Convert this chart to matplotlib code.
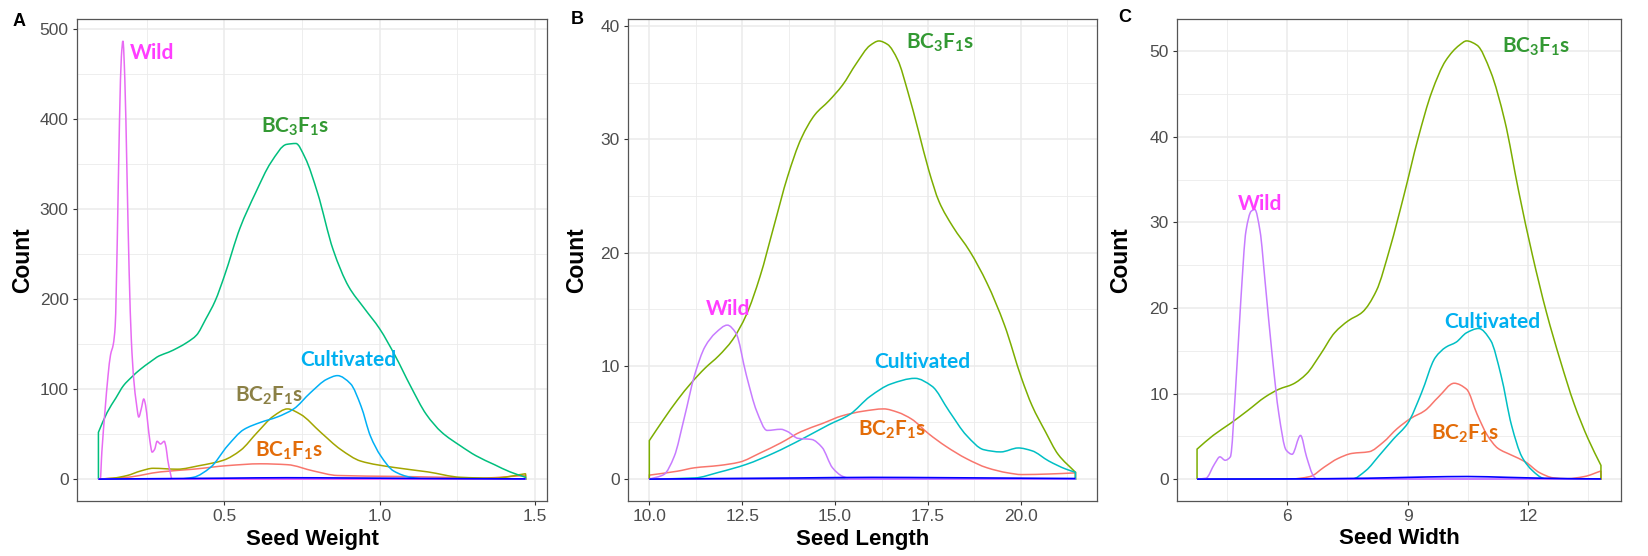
import numpy as np
import matplotlib
matplotlib.use("Agg")
from matplotlib import pyplot as plt
from matplotlib.path import Path
from matplotlib.patches import PathPatch

plt.rcParams["font.family"] = ["Liberation Sans", "DejaVu Sans"]
plt.rcParams["mathtext.fontset"] = "custom"
plt.rcParams["mathtext.rm"] = "Lato"
plt.rcParams["mathtext.bf"] = "Lato:bold"

# ---- panel A : seed weight ----
wt_bc3_x = [0.094, 0.122, 0.15, 0.175, 0.2, 0.229, 0.26, 0.29, 0.32, 0.35, 0.38, 0.41, 0.44, 0.47, 0.5,
            0.55, 0.6, 0.65, 0.7, 0.73, 0.76, 0.8, 0.85, 0.9, 0.95, 1.0, 1.05, 1.1, 1.15, 1.2, 1.26,
            1.31, 1.37, 1.42, 1.47]
wt_bc3_y = [52, 74, 90, 104, 113, 122, 130, 137, 141, 146, 152, 160, 178, 198, 226,
            279, 318, 352, 372, 373, 357, 318, 255, 214, 190, 167, 137, 103, 72, 52, 37,
            26, 16, 8, 2]
wt_cult_x = [0.094, 0.35, 0.40, 0.455, 0.51, 0.562, 0.616, 0.67, 0.723, 0.777, 0.83, 0.864, 0.906,
             0.94, 0.97, 1.003, 1.045, 1.1, 1.15, 1.47]
wt_cult_y = [0, 0, 2, 13, 37, 55, 63, 69, 78, 96, 111, 115, 106, 81, 48, 26, 9, 2, 0, 0]
wt_bc2_x = [0.094, 0.14, 0.187, 0.23, 0.27, 0.348, 0.42, 0.497, 0.552, 0.606, 0.658, 0.703, 0.745,
            0.81, 0.874, 0.939, 1.045, 1.155, 1.26, 1.368, 1.47]
wt_bc2_y = [0, 1, 4, 9, 12, 11, 15, 21, 32, 52, 70, 78, 72, 52, 33, 20, 13, 8, 2, 1, 6]
wt_bc1_x = [0.094, 0.187, 0.294, 0.40, 0.51, 0.616, 0.703, 0.787, 0.864, 1.045, 1.21, 1.314, 1.47]
wt_bc1_y = [0, 2, 8, 11, 15, 17, 16, 9, 4, 3, 2, 1, 4]
wt_wild_x = [0.094, 0.100, 0.105, 0.115, 0.125, 0.133, 0.142, 0.148, 0.155, 0.162, 0.168, 0.173,
             0.179, 0.186, 0.193, 0.200, 0.208, 0.216, 0.224, 0.232, 0.240, 0.246, 0.253, 0.260,
             0.267, 0.275, 0.283, 0.294, 0.306, 0.312, 0.317, 0.325, 0.331, 1.47]
wt_wild_y = [0, 0, 30, 75, 115, 138, 150, 170, 270, 400, 470, 487,
             445, 340, 230, 155, 110, 85, 69, 78, 89, 82, 62, 42,
             30, 33, 42, 39, 42, 35, 22, 8, 0, 0]
wt_blue_x = [0.094, 0.3, 0.5, 0.7, 0.9, 1.1, 1.3, 1.47]
wt_blue_y = [0, 0.5, 1.0, 1.5, 1.2, 0.8, 0.4, 0.2]

# ---- panel B : seed length ----
ln_bc3_x = [10.0, 10.39, 10.76, 11.13, 11.5, 11.87, 12.24, 12.61, 12.98, 13.35, 13.72, 14.09, 14.46,
            14.83, 15.2, 15.57, 15.94, 16.18, 16.41, 16.69, 16.96, 17.24, 17.52, 17.8, 18.17, 18.63,
            19.09, 19.56, 20.02, 20.3, 20.66, 21.0, 21.47]
ln_bc3_y = [3.4, 5.3, 7.0, 8.5, 9.8, 10.9, 12.3, 14.5, 17.9, 22.3, 26.7, 30.1, 32.2,
            33.4, 34.8, 36.7, 38.3, 38.7, 38.4, 37.0, 34.2, 30.8, 27.3, 24.5, 22.3, 20.1,
            17.3, 13.6, 8.9, 6.5, 4.2, 2.2, 0.6]
ln_wild_x = [10.0, 10.39, 10.67, 10.94, 11.22, 11.5, 11.78, 12.1, 12.33, 12.61, 12.89, 13.17, 13.54,
             13.72, 14.0, 14.37, 14.65, 14.93, 15.2, 15.48, 21.47]
ln_wild_y = [0, 0.4, 2.0, 5.4, 9.2, 11.7, 12.9, 13.6, 12.9, 9.2, 6.0, 4.3, 4.4,
             4.2, 3.6, 3.5, 2.8, 1.0, 0.25, 0, 0]
ln_cult_x = [10.0, 11.22, 11.87, 12.61, 13.35, 14.09, 14.83, 15.39, 15.94, 16.5, 17.15, 17.61, 18.07,
             18.54, 19.0, 19.46, 19.93, 20.3, 20.75, 21.2, 21.47]
ln_cult_y = [0, 0.1, 0.6, 1.3, 2.3, 3.5, 4.8, 5.7, 7.3, 8.4, 8.9, 8.2, 6.0,
             3.85, 2.6, 2.4, 2.75, 2.5, 1.6, 0.9, 0.6]
ln_bc2_x = [10.0, 10.76, 11.22, 11.87, 12.43, 12.98, 13.54, 14.09, 14.65, 15.2, 15.76, 16.31, 16.69,
            17.06, 17.52, 17.98, 18.54, 19.09, 19.65, 20.02, 20.76, 21.47]
ln_bc2_y = [0.35, 0.7, 1.0, 1.2, 1.5, 2.3, 3.2, 4.2, 4.9, 5.6, 6.0, 6.2, 5.9,
            5.3, 4.0, 2.9, 1.8, 1.0, 0.55, 0.4, 0.45, 0.55]
ln_blue_x = [10.0, 12.0, 14.0, 16.0, 18.0, 20.0, 21.47]
ln_blue_y = [0, 0.05, 0.1, 0.15, 0.12, 0.08, 0.05]

# ---- panel C : seed width ----
wd_bc3_x = [3.75, 4.15, 4.58, 5.01, 5.45, 5.79, 6.14, 6.48, 6.83, 7.18, 7.52, 7.87, 8.22, 8.56, 8.91,
            9.26, 9.6, 9.95, 10.29, 10.47, 10.73, 11.07, 11.42, 11.77, 12.11, 12.46, 12.81, 13.15,
            13.5, 13.82]
wd_bc3_y = [3.5, 5.1, 6.5, 8.0, 9.6, 10.5, 11.1, 12.3, 14.6, 17.1, 18.5, 19.5, 22.0, 27.0, 33.2,
            39.8, 45.2, 48.9, 50.7, 51.2, 50.7, 47.6, 41.9, 33.6, 26.2, 19.5, 13.8, 8.8,
            4.7, 1.6]
wd_wild_x = [3.75, 3.97, 4.19, 4.32, 4.45, 4.58, 4.71, 4.84, 4.97, 5.1, 5.19, 5.32, 5.45, 5.62, 5.79,
             5.97, 6.12, 6.33, 6.48, 6.66, 6.74, 13.82]
wd_wild_y = [0, 0.1, 1.8, 2.6, 2.2, 2.6, 10.5, 20.8, 29.0, 31.3, 31.5, 29.0, 22.9, 14.6, 7.6,
             3.4, 2.9, 5.1, 2.6, 0.3, 0, 0]
wd_cult_x = [3.75, 7.61, 7.96, 8.3, 8.65, 9.0, 9.34, 9.69, 9.95, 10.21, 10.47, 10.77, 11.07, 11.33,
             11.59, 11.85, 12.11, 12.37, 12.45, 13.82]
wd_cult_y = [0, 0, 1.0, 2.8, 4.7, 6.5, 10.0, 14.2, 15.4, 16.0, 17.1, 17.6, 16.2, 12.1,
             6.3, 2.6, 1.0, 0.1, 0, 0]
wd_bc2_x = [3.75, 6.05, 6.57, 6.92, 7.26, 7.61, 8.04, 8.39, 8.74, 9.08, 9.43, 9.77, 10.16, 10.47,
            10.73, 10.99, 11.25, 11.59, 11.94, 12.29, 12.63, 12.98, 13.41, 13.82]
wd_bc2_y = [0, 0, 0.3, 1.4, 2.4, 3.0, 3.2, 4.3, 5.9, 7.1, 8.0, 9.6, 11.2, 10.5,
            7.6, 5.1, 3.6, 2.8, 2.0, 0.75, 0.15, 0.05, 0.3, 0.95]
wd_blue_x = [3.75, 6.0, 8.0, 9.5, 10.5, 11.5, 13.0, 13.82]
wd_blue_y = [0, 0.02, 0.1, 0.25, 0.3, 0.2, 0.05, 0.02]

W, H = 1649, 556
fig = plt.figure(figsize=(W / 100, H / 100), dpi=100)


def box(left, right, top=19, bottom=501):
    return [left / W, 1 - bottom / H, (right - left) / W, (bottom - top) / H]


def slopes(x, y):
    # shape preserving (pchip style) tangents, no overshoot
    h = np.diff(x)
    d = np.diff(y) / h
    m = np.zeros_like(y)
    m[0], m[-1] = d[0], d[-1]
    for k in range(1, len(x) - 1):
        if d[k - 1] * d[k] > 0:
            w1 = 2 * h[k] + h[k - 1]
            w2 = h[k] + 2 * h[k - 1]
            m[k] = (w1 + w2) / (w1 / d[k - 1] + w2 / d[k])
    return m


def smooth_verts(x, y):
    x = np.asarray(x, float)
    y = np.asarray(y, float)
    m = slopes(x, y)
    verts = [(x[0], y[0])]
    codes = []
    for k in range(len(x) - 1):
        h = x[k + 1] - x[k]
        verts += [(x[k] + h / 3, y[k] + m[k] * h / 3),
                  (x[k + 1] - h / 3, y[k + 1] - m[k + 1] * h / 3),
                  (x[k + 1], y[k + 1])]
        codes += [Path.CURVE4] * 3
    return verts, codes


def outline(ax, x, y, color):
    # ggplot density outline: closed polygon with the baseline
    verts, codes = smooth_verts(x, y)
    verts = [(x[0], 0)] + verts + [(x[-1], 0), (x[0], 0)]
    codes = [Path.MOVETO, Path.LINETO] + codes + [Path.LINETO, Path.LINETO]
    ax.add_patch(PathPatch(Path(verts, codes), fill=False, edgecolor=color, lw=1.1, zorder=3))


def line(ax, x, y, color):
    verts, codes = smooth_verts(x, y)
    ax.add_patch(PathPatch(Path(verts, [Path.MOVETO] + codes), fill=False, edgecolor=color,
                           lw=1.2, zorder=4))


def style(ax, xlim, ylim, xmaj, xmin, ymaj, ymin, xlabel, ylab_x):
    ax.set_xlim(xlim)
    ax.set_ylim(ylim)
    ax.set_xticks(xmaj)
    ax.set_xticks(xmin, minor=True)
    ax.set_yticks(ymaj)
    ax.set_yticks(ymin, minor=True)
    ax.grid(True, which="major", color="#EBEBEB", lw=1.1, zorder=0)
    ax.grid(True, which="minor", color="#EBEBEB", lw=0.6, zorder=0)
    ax.set_axisbelow(True)
    ax.tick_params(which="major", length=3, width=0.8, color="#333333",
                   labelcolor="#4D4D4D", labelsize=12.5, pad=3)
    ax.tick_params(which="minor", length=0)
    for s in ax.spines.values():
        s.set_color("#555555")
        s.set_linewidth(0.9)
    ax.set_xlabel(xlabel, fontsize=16, fontweight="bold", labelpad=3)
    ax.set_ylabel("Count", fontsize=16.5, fontweight="bold")
    ax.yaxis.set_label_coords(ylab_x, 0.5)


def label(ax, x, y, s, color):
    ax.text(x, y, s, color=color, fontsize=15, fontweight="bold", family="Lato",
            ha="center", va="center", zorder=5)


orange = "#E36C09"
green_txt = "#339933"
blue_txt = "#00B0F0"
pink_txt = "#FF3DFF"

# panel A
ax = fig.add_axes(box(77, 547))
outline(ax, wt_bc1_x, wt_bc1_y, "#F8766D")
outline(ax, wt_bc2_x, wt_bc2_y, "#A3A500")
outline(ax, wt_bc3_x, wt_bc3_y, "#00BF7D")
outline(ax, wt_cult_x, wt_cult_y, "#00B0F6")
outline(ax, wt_wild_x, wt_wild_y, "#E76BF3")
line(ax, wt_blue_x, wt_blue_y, "#0000FF")
style(ax, (0.025, 1.539), (-24.35, 511.35), [0.5, 1.0, 1.5], [0.25, 0.75, 1.25],
      range(0, 501, 100), range(50, 501, 100), "Seed Weight", -0.092)
ax.set_xticklabels(["0.5", "1.0", "1.5"])
label(ax, 0.268, 474, "Wild", pink_txt)
label(ax, 0.729, 392, r"$\mathbf{BC_3F_1s}$", green_txt)
label(ax, 0.90, 132, "Cultivated", blue_txt)
label(ax, 0.645, 92, r"$\mathbf{BC_2F_1s}$", "#8B8045")
label(ax, 0.71, 31, r"$\mathbf{BC_1F_1s}$", orange)

# panel B
ax = fig.add_axes(box(628, 1097))
outline(ax, ln_bc2_x, ln_bc2_y, "#F8766D")
outline(ax, ln_bc3_x, ln_bc3_y, "#7CAE00")
outline(ax, ln_cult_x, ln_cult_y, "#00BFC4")
outline(ax, ln_wild_x, ln_wild_y, "#C77CFF")
line(ax, ln_blue_x, ln_blue_y, "#0000FF")
style(ax, (9.426, 22.05), (-1.935, 40.64), [10, 12.5, 15, 17.5, 20], [11.25, 13.75, 16.25, 18.75, 21.25],
      range(0, 41, 10), range(5, 41, 10), "Seed Length", -0.085)
ax.set_xticklabels(["10.0", "12.5", "15.0", "17.5", "20.0"])
label(ax, 17.83, 38.5, r"$\mathbf{BC_3F_1s}$", green_txt)
label(ax, 12.12, 15.0, "Wild", pink_txt)
label(ax, 17.35, 10.35, "Cultivated", blue_txt)
label(ax, 16.54, 4.34, r"$\mathbf{BC_2F_1s}$", orange)

# panel C
ax = fig.add_axes(box(1177, 1621))
outline(ax, wd_bc2_x, wd_bc2_y, "#F8766D")
outline(ax, wd_bc3_x, wd_bc3_y, "#7CAE00")
outline(ax, wd_cult_x, wd_cult_y, "#00BFC4")
outline(ax, wd_wild_x, wd_wild_y, "#C77CFF")
line(ax, wd_blue_x, wd_blue_y, "#0000FF")
style(ax, (3.25, 14.32), (-2.56, 53.76), [6, 9, 12], [4.5, 7.5, 10.5, 13.5],
      range(0, 51, 10), range(5, 51, 10), "Seed Width", -0.102)
label(ax, 12.2, 50.5, r"$\mathbf{BC_3F_1s}$", green_txt)
label(ax, 5.33, 32.2, "Wild", pink_txt)
label(ax, 11.11, 18.3, "Cultivated", blue_txt)
label(ax, 10.44, 5.25, r"$\mathbf{BC_2F_1s}$", orange)

for s, px, py in [("A", 19, 21), ("B", 577, 20), ("C", 1125, 17)]:
    fig.text(px / W, 1 - py / H, s, fontsize=13, fontweight="bold", ha="center", va="center")

fig.savefig("out.png", dpi=100)
